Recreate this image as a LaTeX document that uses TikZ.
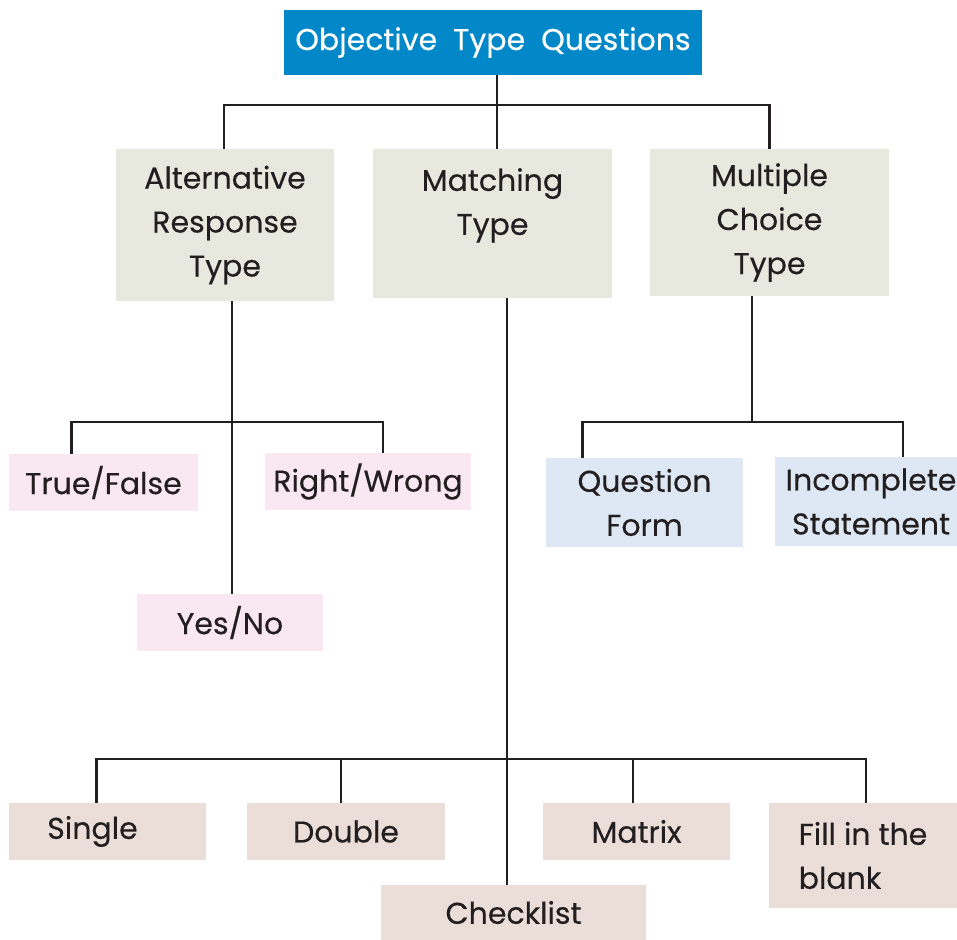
\documentclass[tikz,border=0pt]{standalone}
\usepackage{fontspec}
\setmainfont{Poppins}[FakeBold=0.4]
\definecolor{topblue}{HTML}{0288C9}
\definecolor{greybox}{HTML}{E7E9DF}
\definecolor{pinkbox}{HTML}{F9E7F2}
\definecolor{bluebox}{HTML}{DDE8F4}
\definecolor{tanbox}{HTML}{EBDED9}
\definecolor{linecol}{HTML}{231F20}
\begin{document}
\begin{tikzpicture}[x=0.5pt, y=-0.5pt,
    qbox/.style={inner sep=0pt, align=center, text=linecol,
        font=\fontsize{15}{22}\selectfont},
    conn/.style={draw=linecol, line width=1.25pt}]
            \useasboundingbox (0,0) rectangle (957,940);
            \node[qbox, fill=topblue, text=white, minimum width=209pt, minimum height=32.5pt] (top) at (493,42.5) {Objective\ \ Type\ \ Questions};
            \node[qbox, fill=greybox, minimum width=109pt, minimum height=76pt] (alt) at (225,225) {Alternative\\Response\\Type};
            \node[qbox, fill=greybox, minimum width=119.5pt, minimum height=74.5pt] (mat) at (492.5,223.5) {Matching\\Type\\ \mbox{}};
            \node[qbox, fill=greybox, minimum width=119.5pt, minimum height=73.5pt] (mc) at (769.5,222.5) {Multiple\\Choice\\Type};
            \node[qbox, fill=pinkbox, minimum width=94.5pt, minimum height=28.5pt] (tf) at (103.5,482.5) {True/False};
            \node[qbox, fill=pinkbox, minimum width=103pt, minimum height=28.5pt] (rw) at (368,481.5) {Right/Wrong};
            \node[qbox, fill=pinkbox, minimum width=93pt, minimum height=28.5pt] (yn) at (230,622.5) {Yes/No};
            \node[qbox, fill=bluebox, minimum width=98.5pt, minimum height=44.5pt] (qf) at (644.5,502.5) {Question\\Form};
            \node[qbox, fill=bluebox, minimum width=91pt, minimum height=44.5pt] (inc) at (866,501.5) {\hspace*{5pt}Incomplete\\\hspace*{5pt}Statement};
            \node[qbox, fill=tanbox, minimum width=98.5pt, minimum height=28.5pt] (sgl) at (107.5,831.5) {Single\hspace*{15pt}};
            \node[qbox, fill=tanbox, minimum width=99pt, minimum height=28.5pt] (dbl) at (346,831.5) {Double};
            \node[qbox, fill=tanbox, minimum width=132.5pt, minimum height=27.5pt] (chk) at (513.5,912.5) {Checklist};
            \node[qbox, fill=tanbox, minimum width=93.5pt, minimum height=28.5pt] (mtx) at (636.5,831.5) {Matrix};
            \node[qbox, fill=tanbox, align=left, minimum width=94pt, minimum height=52.5pt] (fil) at (863,855.5) {\hspace*{15pt}Fill in the\\\hspace*{15pt}blank\hspace*{38pt}};
            % top level
            \coordinate (jtop) at (497,105);
            \draw[conn] (top.south -| jtop) -- (mat.north -| jtop);
            \draw[conn] ([xshift=-0.5pt]alt.north) |- (jtop) -| (mc.north);
            % alternative response
            \coordinate (jalt) at (232,422);
            \draw[conn] (alt.south -| jalt) -- (yn.north -| jalt);
            \draw[conn] ([xshift=-16pt]tf.north) |- (jalt) -| ([xshift=7.5pt]rw.north);
            % multiple choice
            \coordinate (jmc) at (752,422);
            \draw[conn] (mc.south -| jmc) -- (jmc);
            \draw[conn] ([xshift=-31pt]qf.north) |- (jmc) -| ([xshift=18.5pt]inc.north);
            % matching
            \coordinate (jmat) at (507,759);
            \draw[conn] (mat.south -| jmat) -- (chk.north -| jmat);
            \draw[conn] ([xshift=-5.5pt]sgl.north) |- (jmat) -| ([xshift=1.5pt]fil.north);
            \draw[conn] ([xshift=-2.5pt]dbl.north) -- ([xshift=-2.5pt]dbl.north |- jmat);
            \draw[conn] ([xshift=-1.75pt]mtx.north) -- ([xshift=-1.75pt]mtx.north |- jmat);
        \end{tikzpicture}
\end{document}
